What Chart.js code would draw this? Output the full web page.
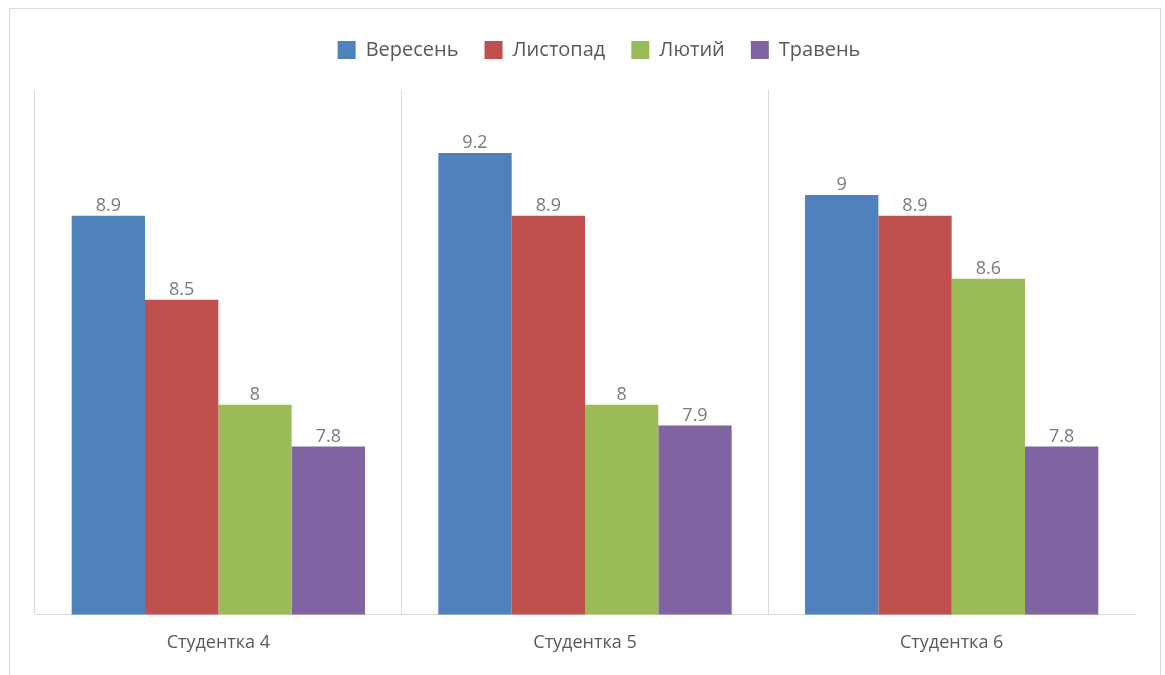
<!DOCTYPE html>
<html>
<head>
<meta charset="utf-8">
<script src="https://cdn.jsdelivr.net/npm/chart.js@4.4.1/dist/chart.umd.min.js"></script>
<style>
  html, body { margin: 0; padding: 0; background: #fff; }
  .frame {
    position: absolute; left: 9px; top: 8px; width: 1152px; height: 700px;
    border: 1px solid #d9d9d9; box-sizing: border-box;
  }
  .wrap { position: absolute; left: 0; top: 0; width: 1165px; height: 675px; }
</style>
</head>
<body>
<div class="frame"></div>
<div class="wrap"><canvas id="chart"></canvas></div>
<script>
const students = ["Студентка 4", "Студентка 5", "Студентка 6"];
const months = ["Вересень", "Листопад", "Лютий", "Травень"];
const september = [8.9, 9.2, 9];
const november = [8.5, 8.9, 8.9];
const february = [8, 8, 8.6];
const may = [7.8, 7.9, 7.8];
const colors = ["#4f81bd", "#c0504d", "#9bbb59", "#8064a2"];

const series = [september, november, february, may];
const FONT = "'Open Sans', 'Noto Sans', sans-serif";

// value above each bar
const valueLabels = {
  id: "valueLabels",
  afterDatasetsDraw(chart) {
    const ctx = chart.ctx;
    ctx.save();
    ctx.font = "18px " + FONT;
    ctx.fillStyle = "#7a7a7a";
    ctx.textAlign = "center";
    ctx.textBaseline = "alphabetic";
    chart.data.datasets.forEach((ds, i) => {
      chart.getDatasetMeta(i).data.forEach((bar, j) => {
        ctx.fillText(String(ds.data[j]), bar.x, bar.y - 5);
      });
    });
    ctx.restore();
  },
};

// more room under the legend, and centre it on the whole canvas
const legendTweak = {
  id: "legendTweak",
  beforeInit(chart) {
    const legend = chart.legend;
    const fit = legend.fit;
    const draw = legend.draw;
    legend.fit = function () {
      fit.call(this);
      this.height += 20;
    };
    legend.draw = function () {
      this.ctx.save();
      this.ctx.translate(14, 0);
      draw.call(this);
      this.ctx.restore();
    };
  },
};

new Chart(document.getElementById("chart"), {
  type: "bar",
  data: {
    labels: students,
    datasets: series.map((data, i) => ({
      label: months[i],
      data: data,
      backgroundColor: colors[i],
      categoryPercentage: 0.8,
      barPercentage: 1,
    })),
  },
  options: {
    responsive: true,
    maintainAspectRatio: false,
    animation: false,
    layout: { padding: { left: 35, right: 30, top: 14, bottom: 3 } },
    plugins: {
      legend: {
        position: "top",
        labels: {
          font: { family: FONT, size: 20 },
          color: "#595959",
          boxWidth: 18,
          boxHeight: 18,
          padding: 26,
        },
      },
      tooltip: { enabled: false },
    },
    scales: {
      x: {
        grid: {
          offset: true,
          drawTicks: false,
          color: (c) => (c.type === "tick" ? "#d9d9d9" : "rgba(0,0,0,0)"),
        },
        border: { color: "#d9d9d9" },
        ticks: { font: { family: FONT, size: 18 }, color: "#595959", padding: 18 },
      },
      y: { display: false, min: 7, max: 9.5 },
    },
  },
  plugins: [valueLabels, legendTweak],
});
</script>
</body>
</html>
